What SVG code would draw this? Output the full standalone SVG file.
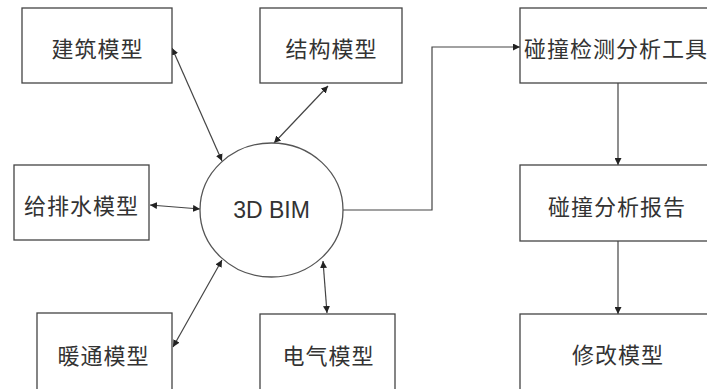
<svg xmlns="http://www.w3.org/2000/svg" width="707" height="389" viewBox="0 0 707 389">
<defs>
<style>
.box{fill:#fff;stroke:#444;stroke-width:1.3}
.t{font-family:"Noto Sans CJK SC","Liberation Sans",sans-serif;font-size:22px;fill:#333;text-anchor:middle;dominant-baseline:central;letter-spacing:1px}
.e{font-family:"Liberation Sans","Noto Sans",sans-serif;font-size:23px;fill:#333;text-anchor:middle}
.c{fill:none;stroke:#444;stroke-width:1.2}
</style>
<marker id="ah" viewBox="0 0 10 10" refX="10" refY="5" markerWidth="7" markerHeight="7" markerUnits="userSpaceOnUse" orient="auto-start-reverse">
<path d="M0,0 L10,5 L0,10 z" fill="#222"/>
</marker>
</defs>
<rect width="707" height="389" fill="#fff"/>
<g id="connectors">
<line class="c" x1="172" y1="48" x2="222" y2="161" marker-start="url(#ah)" marker-end="url(#ah)"/>
<line class="c" x1="328" y1="86" x2="274" y2="143" marker-start="url(#ah)" marker-end="url(#ah)"/>
<line class="c" x1="150" y1="205" x2="200" y2="209" marker-start="url(#ah)" marker-end="url(#ah)"/>
<line class="c" x1="173" y1="347" x2="222" y2="260" marker-start="url(#ah)" marker-end="url(#ah)"/>
<line class="c" x1="327" y1="313" x2="323" y2="261" marker-start="url(#ah)" marker-end="url(#ah)"/>
<polyline class="c" points="343,210 432,210 432,47 520,47" marker-end="url(#ah)"/>
<line class="c" x1="618" y1="83" x2="618" y2="165" marker-end="url(#ah)"/>
<line class="c" x1="618" y1="241" x2="618" y2="314" marker-end="url(#ah)"/>
</g>
<g id="bim">
<ellipse cx="271.5" cy="210" rx="71.5" ry="67" fill="#fff" stroke="#555" stroke-width="1.3"/>
<text class="e" x="271.5" y="218">3D BIM</text>
</g>
<g id="arch">
<rect class="box" x="22" y="8" width="150" height="75"/>
<text class="t" x="97.5" y="47">建筑模型</text>
</g>
<g id="struct">
<rect class="box" x="260" y="8" width="142" height="75"/>
<text class="t" x="331.5" y="47">结构模型</text>
</g>
<g id="plumb">
<rect class="box" x="14" y="165" width="135" height="75"/>
<text class="t" x="81.5" y="204">给排水模型</text>
</g>
<g id="hvac">
<rect class="box" x="37" y="313" width="135" height="80"/>
<text class="t" x="103.5" y="354">暖通模型</text>
</g>
<g id="elec">
<rect class="box" x="260" y="314" width="135" height="80"/>
<text class="t" x="328.5" y="354">电气模型</text>
</g>
<g id="clash">
<rect class="box" x="520" y="8" width="195" height="75"/>
<text class="t" x="524" y="47" style="text-anchor:start">碰撞检测分析工具</text>
</g>
<g id="report">
<rect class="box" x="520" y="165" width="195" height="76"/>
<text class="t" x="617" y="205">碰撞分析报告</text>
</g>
<g id="modify">
<rect class="box" x="520" y="314" width="195" height="80"/>
<text class="t" x="618" y="353">修改模型</text>
</g>
</svg>
